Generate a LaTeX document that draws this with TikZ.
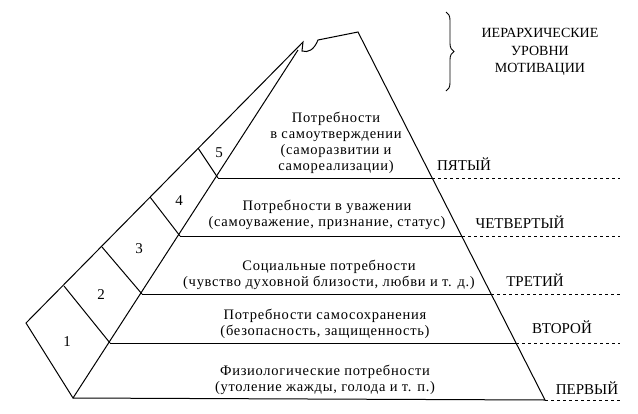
\documentclass[tikz,border=0pt]{standalone}
\usepackage{fontspec}
\setmainfont{Liberation Serif}
\newfontfamily\spaced[LetterSpace=5]{Liberation Serif}
\usetikzlibrary{decorations.pathreplacing}
\begin{document}
\begin{tikzpicture}[x=1pt,y=-1pt,line width=1pt,
  txt/.style={font=\spaced\fontsize{14.5}{16}\selectfont,align=center,inner sep=0},
  lvl/.style={font=\fontsize{15}{16}\selectfont,inner sep=0},
  num/.style={font=\fontsize{15}{16}\selectfont,inner sep=0}]
\useasboundingbox (0,0) rectangle (638,413);
% main pyramid
\coordinate (BL) at (73,398); \coordinate (BR) at (545,400);
\coordinate (TR) at (358,32);
\coordinate (L5) at (218,178); \coordinate (R5) at (432,178);
\coordinate (L4) at (180,236); \coordinate (R4) at (462,236);
\coordinate (L3) at (142,294); \coordinate (R3) at (491,294);
\coordinate (L2) at (110,343); \coordinate (R2) at (516,343);
\draw (BL) -- (BR) -- (TR) -- (318,40) .. controls (314,50) and (308,53) .. (302,51) -- (303,42) -- (26,323) -- (BL) -- (298,50);
\foreach \i in {2,3,4,5} \draw (L\i) -- (R\i);
\draw[dashed,line width=0.7pt] (R5) -- (620,178) (R4) -- (620,236) (R3) -- (620,294) (R2) -- (620,343) (BR) -- (620,400);
% side boxes dividers
\draw (64,286) -- (L2) (102,247) -- (L3) (150,197) -- (L4) (198,148) -- (L5);
\node[num] (n1) at (67,342) {1};
\node[num] (n2) at (101,295) {2};
\node[num] (n3) at (139,249) {3};
\node[num] (n4) at (179,201) {4};
\node[num] (n5) at (219,153) {5};
\node[txt] (t5) at (336,143) {Потребности\\в самоутверждении\\(саморазвитии и\\самореализации)};
\node[txt] (t4) at (327,215) {Потребности в уважении\\(самоуважение, признание, статус)};
\node[txt] (t3) at (329,275) {Социальные потребности\\(чувство духовной близости, любви и т. д.)};
\node[txt] (t2) at (325,324) {Потребности самосохранения\\(безопасность, защищенность)};
\node[txt] (t1) at (325,380) {Физиологические потребности\\(утоление жажды, голода и т. п.)};
\node[lvl] (p5) at (464,164) {ПЯТЫЙ};
\node[lvl] (p4) at (520,222) {ЧЕТВЕРТЫЙ};
\node[lvl] (p3) at (535,280) {ТРЕТИЙ};
\node[lvl] (p2) at (562,327) {ВТОРОЙ};
\node[lvl] (p1) at (587,388) {ПЕРВЫЙ};
\draw[decorate,decoration={brace,amplitude=8pt},line width=0.9pt] (446,12) -- (446,91);
\node[align=center,inner sep=0,font=\fontsize{14}{17.5}\selectfont] (h) at (540,52) {ИЕРАРХИЧЕСКИЕ\\УРОВНИ\\МОТИВАЦИИ};
\end{tikzpicture}
\end{document}
